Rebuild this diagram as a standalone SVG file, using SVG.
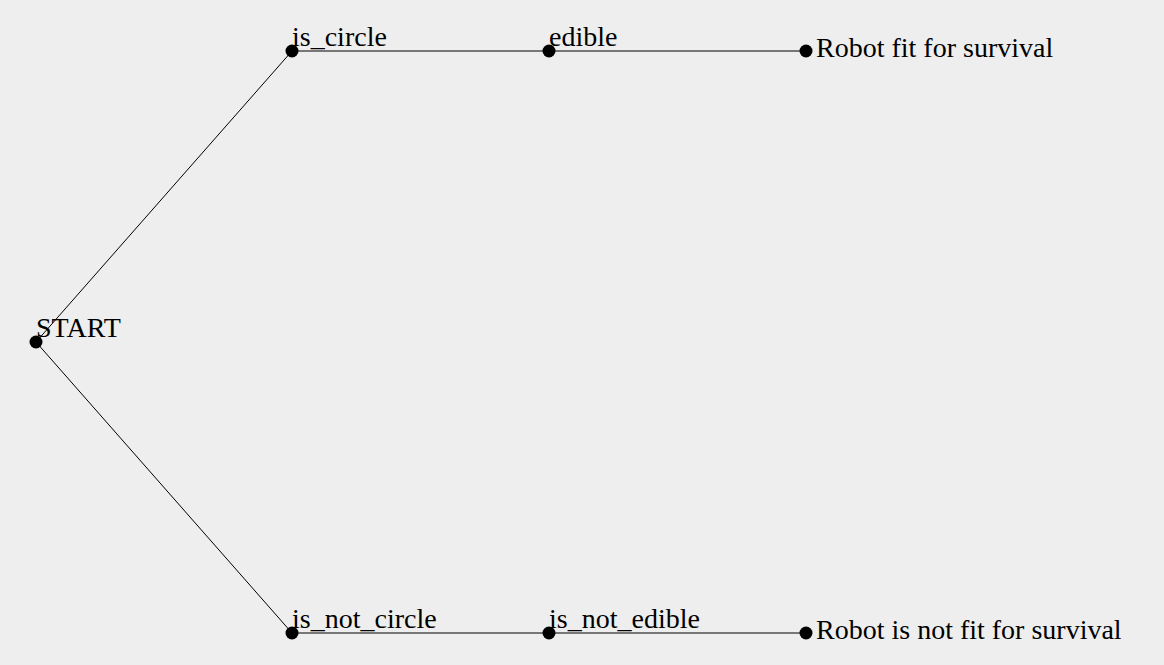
<svg xmlns="http://www.w3.org/2000/svg" width="1164" height="665" viewBox="0 0 1164 665">
<style>
.e{stroke:#000;stroke-width:1;fill:none}
.n{fill:#000}
text{font-family:"Liberation Serif","Times New Roman",serif;font-size:28px;fill:#000}
</style>
<rect width="1164" height="665" fill="#eeeeee"/>
<g id="connectors">
<line class="e" x1="36" y1="342" x2="292" y2="51"/>
<line class="e" x1="292" y1="51" x2="549" y2="51"/>
<line class="e" x1="549" y1="51" x2="806" y2="51"/>
<line class="e" x1="36" y1="342" x2="292" y2="633"/>
<line class="e" x1="292" y1="633" x2="549" y2="633"/>
<line class="e" x1="549" y1="633" x2="806" y2="633"/>
</g>
<g id="start"><circle class="n" cx="36" cy="342" r="6.5"/><text x="36" y="337">START</text></g>
<g id="is_circle"><circle class="n" cx="292" cy="51" r="6.5"/><text x="292" y="46">is_circle</text></g>
<g id="edible"><circle class="n" cx="549" cy="51" r="6.5"/><text x="549" y="46">edible</text></g>
<g id="fit"><circle class="n" cx="806" cy="51" r="6.5"/><text x="816" y="57">Robot fit for survival</text></g>
<g id="is_not_circle"><circle class="n" cx="292" cy="633" r="6.5"/><text x="292" y="628">is_not_circle</text></g>
<g id="is_not_edible"><circle class="n" cx="549" cy="633" r="6.5"/><text x="549" y="628">is_not_edible</text></g>
<g id="not_fit"><circle class="n" cx="806" cy="633" r="6.5"/><text x="816" y="639">Robot is not fit for survival</text></g>
</svg>
